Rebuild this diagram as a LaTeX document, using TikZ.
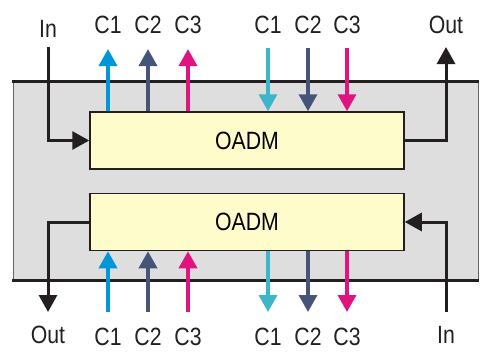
\documentclass[tikz,border=0pt]{standalone}
\usepackage{fontspec}
\setmainfont{Liberation Sans}[FakeStretch=0.85]
\usetikzlibrary{arrows.meta}
\definecolor{ink}{RGB}{35,31,32}
\definecolor{chA}{RGB}{0,150,218}
\definecolor{chAd}{RGB}{60,182,200}
\definecolor{chB}{RGB}{70,84,122}
\definecolor{chC}{RGB}{224,20,128}
\definecolor{shelf}{RGB}{222,222,222}
\definecolor{cardfill}{RGB}{255,252,204}
\tikzset{
  card/.style={draw=ink,line width=1.5pt,fill=cardfill,minimum width=314pt,minimum height=57pt,inner sep=0pt},
  fiber/.style={draw=ink,line width=3pt,->},
  wave/.style={draw=#1,line width=3.5pt,->,#1},
  lbl/.style={text=ink,inner sep=0pt}
}
\begin{document}
\begin{tikzpicture}[x=1pt,y=-1pt,>={Triangle[width=18pt,length=17pt]},line join=miter,font=\fontsize{25}{25}\selectfont]
		\useasboundingbox (0,0) rectangle (486,360);
		% shelf
		\fill[shelf] (13,81) rectangle (478,280);
		\draw[line width=1pt,ink!70] (13,81)--(13,280) (478,81)--(478,280);
		\draw[line width=3pt,ink] (12,81)--(479,81) (12,280)--(479,280);
		% cards
		\node[card] (top) at (247,140.5) {OADM};
		\node[card] (bot) at (247,222) {OADM};
		% line in / out
		\coordinate (inA) at (48,47);
		\coordinate (outA) at (446,47);
		\coordinate (outB) at (48,312);
		\coordinate (inB) at (446,312);
		\node[lbl] (lInA) at (48,29) {In};
		\node[lbl] (lOutA) at (446,25) {Out};
		\node[lbl] (lOutB) at (48,335) {Out};
		\node[lbl] (lInB) at (446,335) {In};
		\draw[fiber] (inA) |- (top.west);
		\draw[fiber] (top.east) -| (outA);
		\draw[fiber] (bot.west) -| (outB);
		\draw[fiber] (inB) |- (bot.east);
		% drop / add channels
		\foreach \x/\c [count=\i] in {108/chA,148/chB,188/chC}{
			\coordinate (dA\i) at (\x,49);
			\coordinate (aB\i) at (\x,312);
			\draw[wave=\c] (top.north -| dA\i) -- (dA\i);
			\draw[wave=\c] (aB\i) -- (bot.south -| aB\i);
			\node[lbl] (ldA\i) at (\x,25) {C\i};
			\node[lbl] (laB\i) at (\x,337) {C\i};
		}
		\foreach \x/\c [count=\i] in {268/chAd,308/chB,347/chC}{
			\coordinate (aA\i) at (\x,48);
			\coordinate (dB\i) at (\x,312);
			\draw[wave=\c] (aA\i) -- (top.north -| aA\i);
			\draw[wave=\c] (bot.south -| dB\i) -- (dB\i);
			\node[lbl] (laA\i) at (\x,25) {C\i};
			\node[lbl] (ldB\i) at (\x,337) {C\i};
		}
\end{tikzpicture}
\end{document}
